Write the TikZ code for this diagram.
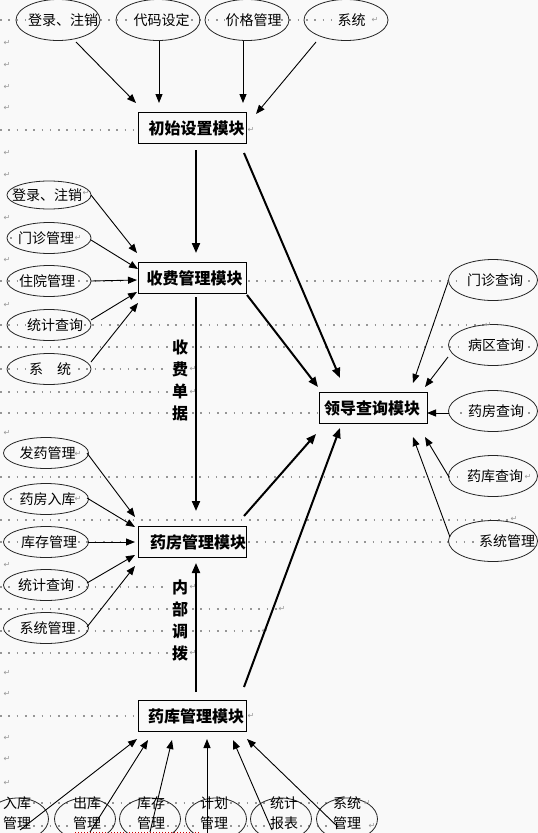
\documentclass[tikz,border=0pt]{standalone}
\usepackage{fontspec}
\newfontfamily\cjk{Noto Sans CJK SC}
\newfontfamily\djv{DejaVu Sans}
\usetikzlibrary{shapes.geometric,arrows.meta}
\definecolor{bg}{RGB}{249,249,249}
\definecolor{dotc}{RGB}{150,150,150}
\newcommand\elltext[2]{\makebox[0pt]{\hspace{#1}#2}}
\begin{document}
\begin{tikzpicture}[x=1pt,y=-1pt,
  ell/.style={draw=black!85,line width=0.8pt,ellipse,inner sep=0pt,minimum width=84pt,minimum height=31pt,font=\cjk\fontsize{14}{14}\selectfont},
  modbox/.style={draw,line width=0.9pt,rectangle,inner sep=0pt,minimum width=108pt,minimum height=31pt,font=\cjk\bfseries\fontsize{16}{16}\selectfont},
  thinarr/.style={line width=0.9pt,-{Triangle[length=9pt,width=7pt]}},
  thickarr/.style={line width=2pt,-{Triangle[length=10pt,width=8pt]}},
  dotrow/.style={dotc,line width=1.6pt,dash pattern=on 1.6pt off 6.7pt},
  reddot/.style={red!80!black,line width=0.9pt,dash pattern=on 1pt off 2pt},
  ret/.style={dotc,font=\djv\fontsize{8}{8}\selectfont,inner sep=0pt},
  vtext/.style={font=\cjk\bfseries\fontsize{16}{22}\selectfont,align=center,inner sep=0pt},
  btext/.style={font=\cjk\fontsize{14}{20}\selectfont,align=center,inner sep=0pt},
]
\useasboundingbox (0,0) rectangle (538,833);
\fill[bg] (0,0) rectangle (538,833);

% Word formatting marks: dotted rows
\foreach \yy/\aa/\bb in {
 20/0/26, 20/100/132, 20/191/225, 20/281/336,
 130/0/136,
 238/10/11.6,
 281/0/18, 281/78/136, 281/248/462, 281/528/529.6,
 325/0/26, 325/84/484,
 347/0/168, 347/192/462, 347/528/529.6,
 369/0/26, 369/78/168,
 392/0/168,
 413/0/168, 413/192/318, 413/460/461.6, 413/528/529.6,
 477/0/462,
 499/10/11.6,
 520/0/510,
 542/0/18, 542/78/136, 542/248/474,
 587/0/16, 587/78/168,
 609/0/168, 609/192/277,
 631/0/16, 631/78/168, 631/192/262,
 653/0/168,
 716/0/136,
 803/33/71, 803/104/136, 803/167/199, 803/230/268, 803/300/331,
 826/33/71, 826/104/136, 826/167/199, 826/230/268, 826/300/331}
 \draw[dotrow] (\aa,\yy) -- (\bb,\yy);
\draw[reddot] (75,832) -- (200,832);

% top ellipses
\node[ell,minimum height=41pt] (e1) at (58,20) {\elltext{10pt}{登录、注销}};
\node[ell,minimum height=41pt] (e2) at (158,20) {\elltext{7pt}{代码设定}};
\node[ell,minimum height=41pt] (e3) at (247,20) {\elltext{13pt}{价格管理}};
\node[ell,minimum height=41pt] (e4) at (346,20) {\elltext{11pt}{系统}};

% module boxes
\node[modbox] (b1) at (192,128) {\elltext{9pt}{初始设置模块}};
\node[modbox] (b2) at (192,278) {\elltext{5pt}{收费管理模块}};
\node[modbox] (b3) at (192,542) {\elltext{12pt}{药房管理模块}};
\node[modbox] (b4) at (192,716) {\elltext{8pt}{药库管理模块}};
\node[modbox] (b5) at (373,408) {\elltext{-2pt}{领导查询模块}};

% group A
\node[ell,minimum height=28pt] (a1) at (49,195) {\elltext{-4pt}{登录、注销}};
\node[ell] (a2) at (49,238) {\elltext{-6pt}{门诊管理}};
\node[ell] (a3) at (49,281) {\elltext{-4pt}{住院管理}};
\node[ell] (a4) at (49,325) {\elltext{12pt}{统计查询}};
\node[ell] (a5) at (49,369) {\elltext{2pt}{系　统}};

% group B
\node[ell,minimum width=85pt] (g1) at (46,453) {\elltext{3pt}{发药管理}};
\node[ell,minimum width=85pt] (g2) at (46,499) {\elltext{3pt}{药房入库}};
\node[ell,minimum width=85pt] (g3) at (46,542) {\elltext{6pt}{库存管理}};
\node[ell,minimum width=85pt] (g4) at (46,585) {\elltext{0pt}{统计查询}};
\node[ell,minimum width=85pt] (g5) at (46,628) {\elltext{3pt}{系统管理}};

% group C
\node[ell,minimum width=89pt,minimum height=41pt] (c1) at (493,280) {\elltext{4pt}{门诊查询}};
\node[ell,minimum width=89pt,minimum height=41pt] (c2) at (493,345) {\elltext{6pt}{病区查询}};
\node[ell,minimum width=89pt,minimum height=41pt] (c3) at (493,411) {\elltext{6pt}{药房查询}};
\node[ell,minimum width=89pt,minimum height=41pt] (c4) at (493,476) {\elltext{4pt}{药库查询}};
\node[ell,minimum width=89pt,minimum height=41pt] (c5) at (493,541) {\elltext{28pt}{系统管理}};

% group D
\foreach \nm/\xx in {d1/18,d2/85,d3/150,d4/216,d5/281,d6/347}
  \node[ell,minimum width=61pt,minimum height=42pt] (\nm) at (\xx,819) {};
\node[btext] (t1) at (17,813) {入库\\管理};
\node[btext] (t2) at (87,813) {出库\\管理};
\node[btext] (t3) at (151,813) {库存\\管理};
\node[btext] (t4) at (214,813) {计划\\管理};
\node[btext] (t5) at (284,813) {统计\\报表};
\node[btext] (t6) at (347,813) {系统\\管理};

% vertical labels
\node[vtext] (sfdj) at (180,380) {收\\费\\单\\据};
\node[vtext] (nbdb) at (180,620) {内\\部\\调\\拨};

% return marks
\foreach \p [count=\i] in {(7,43),(7,65),(7,87),(7,108),(251,130),(7,153),(7,175),(375,20),(86,193),(7,218),(78,238),(7,260),(7,305),(488,325),(193,369),(193,392),(7,433),(78,454),(78,499),(528,477),(514,519),(7,565),(193,587),(282,609),(265,631),(193,653),(7,673),(7,694),(251,716),(7,738),(7,759),(7,783),(367,803),(372,826)}
  \node[ret] (ret\i) at \p {↵};

% arrows: top group
\draw[thinarr] ([shift={(18,22)}]e1.center) -- ([shift={(-56,-25)}]b1.center);
\draw[thinarr] ([shift={(1,21)}]e2.center) -- ([shift={(-33,-25)}]b1.center);
\draw[thinarr] ([shift={(-4,21)}]e3.center) -- ([shift={(51,-25)}]b1.center);
\draw[thinarr] ([shift={(-30,22)}]e4.center) -- ([shift={(64,-14)}]b1.center);

% thick verticals
\draw[thickarr] ([shift={(4,22)}]b1.center) -- ([shift={(4,-25)}]b2.center);
\draw[thickarr] ([shift={(4,19)}]b2.center) -- ([shift={(4,-31)}]b3.center);
\draw[thickarr] ([shift={(4,-24)}]b4.center) -- ([shift={(4,21)}]b3.center);

% group A
\draw[thinarr] ([shift={(42,0)}]a1.center) -- ([shift={(-55,-25)}]b2.center);
\draw[thinarr] ([shift={(42,2)}]a2.center) -- ([shift={(-54,-9)}]b2.center);
\draw[thinarr] ([shift={(42,0)}]a3.center) -- ([shift={(-55,2)}]b2.center);
\draw[thinarr] ([shift={(42,-5)}]a4.center) -- ([shift={(-55,14)}]b2.center);
\draw[thinarr] ([shift={(42,-7)}]a5.center) -- ([shift={(-54,25)}]b2.center);

% group B
\draw[thinarr] ([shift={(41,0)}]g1.center) -- ([shift={(-57,-25)}]b3.center);
\draw[thinarr] ([shift={(41,-1)}]g2.center) -- ([shift={(-57,-15)}]b3.center);
\draw[thinarr] ([shift={(42,0)}]g3.center) -- ([shift={(-57,0)}]b3.center);
\draw[thinarr] ([shift={(41,-2)}]g4.center) -- ([shift={(-57,13)}]b3.center);
\draw[thinarr] ([shift={(41,-1)}]g5.center) -- ([shift={(-57,24)}]b3.center);

% thick arrows to leader module
\draw[thickarr] ([shift={(52,25)}]b1.center) -- ([shift={(-33,-30)}]b5.center);
\draw[thickarr] ([shift={(55,17)}]b2.center) -- ([shift={(-55,-21)}]b5.center);
\draw[thickarr] ([shift={(52,-26)}]b3.center) -- ([shift={(-57,26)}]b5.center);
\draw[thickarr] ([shift={(52,-29)}]b4.center) -- ([shift={(-33,20)}]b5.center);

% group C
\draw[thinarr] ([shift={(-45,2)}]c1.center) -- ([shift={(40,-25)}]b5.center);
\draw[thinarr] ([shift={(-45,12)}]c2.center) -- ([shift={(52,-21)}]b5.center);
\draw[thinarr] ([shift={(-44,2)}]c3.center) -- ([shift={(54,5)}]b5.center);
\draw[thinarr] ([shift={(-44,1)}]c4.center) -- ([shift={(52,29)}]b5.center);
\draw[thinarr] ([shift={(-43,-4)}]c5.center) -- ([shift={(40,29)}]b5.center);

% group D
\draw[thinarr] ([shift={(2,11)}]d1.center) -- ([shift={(-55,23)}]b4.center);
\draw[thinarr] ([shift={(5,13)}]d2.center) -- ([shift={(-44,24)}]b4.center);
\draw[thinarr] ([shift={(0,13)}]d3.center) -- ([shift={(-20,24)}]b4.center);
\draw[thinarr] ([shift={(-9,14)}]d4.center) -- ([shift={(15,23)}]b4.center);
\draw[thinarr] ([shift={(-9,11)}]d5.center) -- ([shift={(41,24)}]b4.center);
\draw[thinarr] ([shift={(-9,8)}]d6.center) -- ([shift={(55,23)}]b4.center);
\end{tikzpicture}
\end{document}
